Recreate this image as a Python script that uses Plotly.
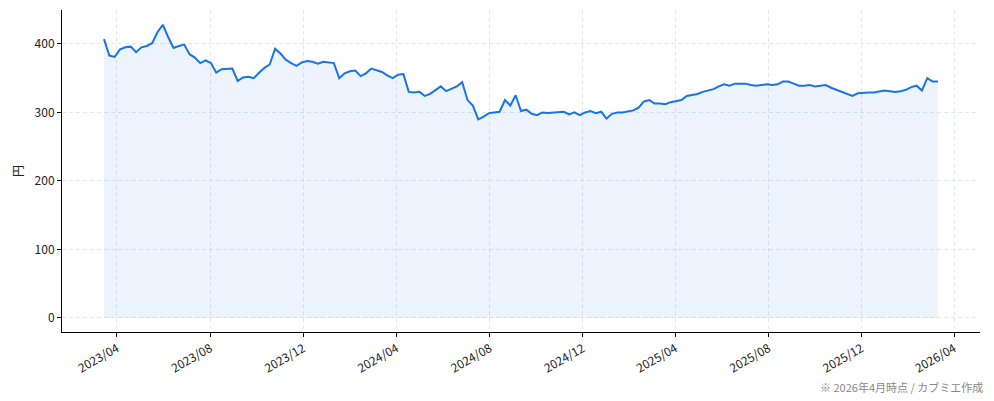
import pandas as pd
import plotly.graph_objects as go

# 週次の終値 (円) 2023-03-15 から
start_date = "2023-03-15"
prices = [
    407, 383, 381, 392, 395, 396, 388, 395, 397, 401,
    417, 428, 410, 394, 397, 399, 385, 380, 372, 376,
    372, 358, 363, 364, 364, 346, 351, 352, 350, 358,
    365, 370, 393, 386, 377, 372, 368, 373, 375, 374,
    371, 374, 373, 372, 350, 357, 360, 361, 353, 357,
    364, 362, 359, 354, 350, 355, 356, 330, 329, 330,
    324, 327, 332, 338, 331, 334, 338, 344, 318, 310,
    290, 294, 299, 300, 301, 318, 310, 325, 302, 304,
    298, 296, 300, 299, 300, 300, 301, 297, 300, 296,
    300, 302, 299, 301, 291, 298, 300, 300, 301, 303,
    307, 316, 318, 313, 313, 312, 315, 317, 318, 324,
    325, 327, 330, 332, 334, 338, 341, 339, 342, 342,
    342, 340, 339, 340, 341, 340, 341, 345, 345, 342,
    339, 339, 340, 338, 339, 340, 336, 333, 331, 328,
    324, 328, 329, 329, 329, 330, 332, 331, 330, 331,
    333, 337, 339, 332, 350, 345, 345,
]
dates = pd.date_range(start_date, periods=len(prices), freq="7D")

y_ticks = [0, 100, 200, 300, 400]
line_color = "#1a73e8"
grid_color = "#e2e7ee"
font_name = "Noto Sans CJK JP"

fig = go.Figure()
fig.add_trace(go.Scatter(
    x=dates, y=prices, mode="lines",
    line=dict(color=line_color, width=2),
    fill="tozeroy", fillcolor="rgba(26,115,232,0.08)",
    showlegend=False, hoverinfo="skip",
))

fig.update_layout(
    width=994, height=401,
    margin=dict(l=62, r=14, t=10, b=69),
    plot_bgcolor="white", paper_bgcolor="white",
    font=dict(family=font_name, size=12, color="#222"),
)
fig.update_xaxes(
    range=["2023-01-19", "2026-05-05"],
    tick0="2023-04-01", dtick="M4", tickformat="%Y/%m", tickangle=-30,
    tickfont=dict(size=12),
    showline=True, linecolor="black", linewidth=1,
    ticks="outside", ticklen=4, tickcolor="black",
    showgrid=True, gridcolor=grid_color, griddash="4px,3px", gridwidth=1,
    automargin=False,
)
fig.update_yaxes(
    range=[-20.5, 449.5], tickvals=y_ticks,
    tickfont=dict(size=12),
    showline=True, linecolor="black", linewidth=1,
    ticks="outside", ticklen=4, tickcolor="black",
    showgrid=True, gridcolor=grid_color, griddash="4px,3px", gridwidth=1,
    zeroline=False, automargin=False,
)
fig.add_annotation(
    text="円", xref="paper", yref="paper", x=-0.049, y=0.5,
    xanchor="center", yanchor="middle",
    textangle=-90, showarrow=False, font=dict(size=12, color="#222"),
)
fig.add_annotation(
    text="※ 2026年4月時点 / カブミエ作成", xref="paper", yref="paper",
    x=1.005, y=-0.14, xanchor="right", yanchor="top", showarrow=False,
    font=dict(size=11, color="#888"),
)

fig.write_html("out.html", config={"displayModeBar": False},
               post_script="document.body.style.margin='0';")
